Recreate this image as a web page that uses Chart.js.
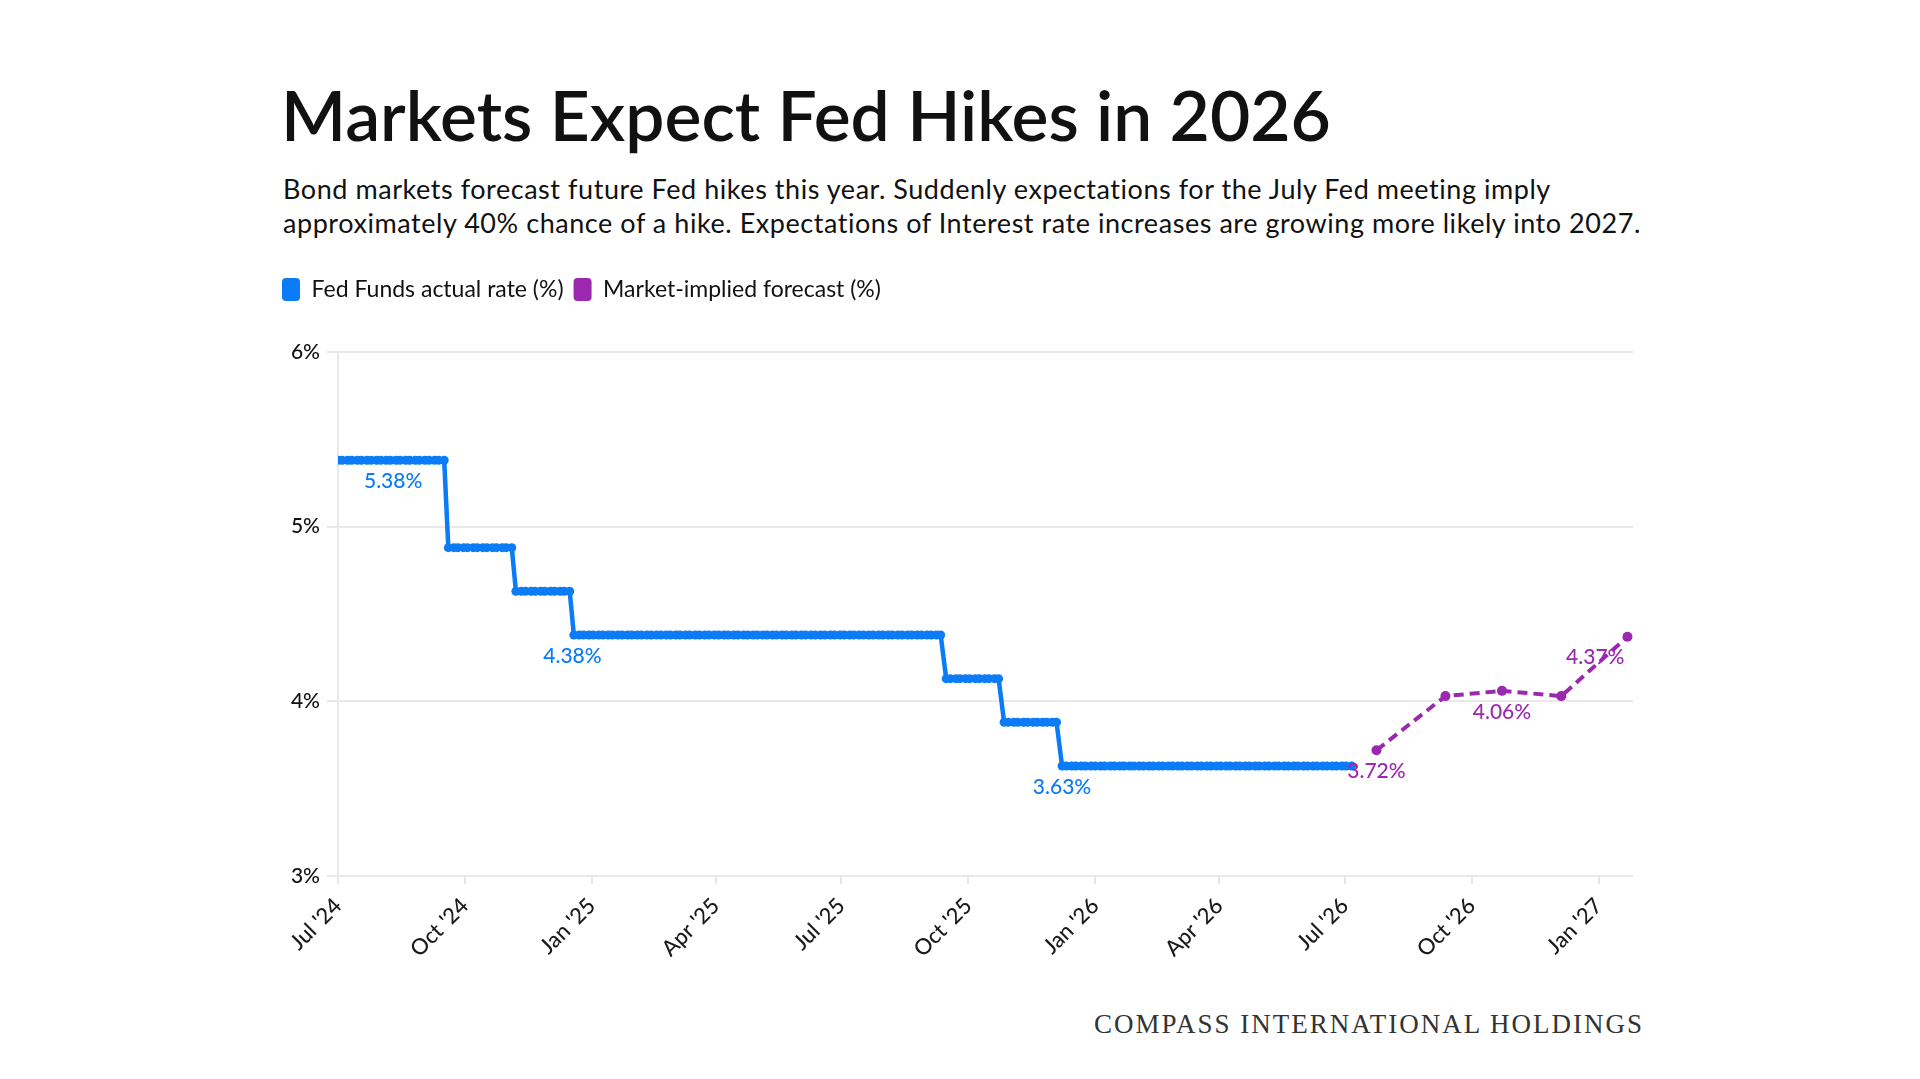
<!DOCTYPE html>
<html>
<head>
<meta charset="utf-8">
<script src="https://cdn.jsdelivr.net/npm/chart.js@4.4.1/dist/chart.umd.min.js"></script>
<style>
  body { margin: 0; width: 1920px; height: 1079px; background: #fff; position: relative; overflow: hidden; font-family: Lato, sans-serif; }
  #title { position: absolute; left: 281px; top: 74px; font-size: 69.5px; line-height: 80px; font-weight: 600; color: #111; white-space: nowrap; }
  #sub { position: absolute; left: 283px; top: 172px; font-size: 27px; line-height: 34px; letter-spacing: 0.55px; color: #111; white-space: nowrap; }
  #foot { position: absolute; right: 276px; top: 1009px; font-family: 'Liberation Serif', serif; font-size: 27px; line-height: 30px; letter-spacing: 2px; color: #333; white-space: nowrap; }
  #wrap { position: absolute; left: 272px; top: 268px; width: 1380px; height: 708px; }
</style>
</head>
<body>
<div id="title">Markets Expect Fed Hikes in 2026</div>
<div id="sub">Bond markets forecast future Fed hikes this year. Suddenly expectations for the July Fed meeting imply<br>approximately 40% chance of a hike. Expectations of Interest rate increases are growing more likely into 2027.</div>
<div id="wrap"><canvas id="myChart"></canvas></div>
<div id="foot">COMPASS INTERNATIONAL HOLDINGS</div>
<script>
// fed funds steps: first date of each level and the rate (%)
const stepStarts = ['2024-07-01', '2024-09-18', '2024-11-07', '2024-12-18', '2025-09-15', '2025-10-27', '2025-12-08'];
const stepRates = [5.38, 4.88, 4.63, 4.38, 4.13, 3.88, 3.63];
const actualEnd = '2026-07-06';

// market-implied path
const forecastDates = ['2026-07-24', '2026-09-12', '2026-10-23', '2026-12-05', '2027-01-22'];
const forecastRates = [3.72, 4.03, 4.06, 4.03, 4.37];

const tickDates = ['2024-07-01', '2024-10-01', '2025-01-01', '2025-04-01', '2025-07-01', '2025-10-01',
                   '2026-01-01', '2026-04-01', '2026-07-01', '2026-10-01', '2027-01-01'];
const tickLabels = ["Jul '24", "Oct '24", "Jan '25", "Apr '25", "Jul '25", "Oct '25",
                    "Jan '26", "Apr '26", "Jul '26", "Oct '26", "Jan '27"];

const blueLabels = [['2024-08-10', '5.38%'], ['2024-12-18', '4.38%'], ['2025-12-08', '3.63%']];
const purpleLabels = [[0, '3.72%'], [2, '4.06%'], [4, '4.37%']];

const BLUE = '#0b7bf6';
const PURPLE = '#9b29b0';
const t0 = Date.parse('2024-07-01');
const dayOf = s => Math.round((Date.parse(s) - t0) / 86400000);

function rateOn(day) {
    let r = stepRates[0];
    stepStarts.forEach((s, i) => { if (dayOf(s) <= day) r = stepRates[i]; });
    return r;
}

// observations are taken Mondays and Thursdays (2024-07-01 is a Monday)
const actual = [];
for (let d = 0; d <= dayOf(actualEnd); d++) {
    if (d % 7 === 0 || d % 7 === 3) actual.push({x: d, y: rateOn(d)});
}
const forecast = forecastDates.map((s, i) => ({x: dayOf(s), y: forecastRates[i]}));

const pointLabels = {
    id: 'pointLabels',
    afterDatasetsDraw(chart) {
        const {ctx, scales: {x, y}, chartArea} = chart;
        ctx.save();
        ctx.font = '500 21px Lato';
        ctx.textBaseline = 'middle';
        const put = (px, py, text, color) => {
            const w = ctx.measureText(text).width;
            ctx.fillStyle = color;
            if (px + w / 2 > chartArea.right) {
                ctx.textAlign = 'right';
                ctx.fillText(text, px - 3, py + 21);
            } else {
                ctx.textAlign = 'center';
                ctx.fillText(text, px, py + 21);
            }
        };
        blueLabels.forEach(([d, t]) => {
            const day = dayOf(d);
            put(x.getPixelForValue(day), y.getPixelForValue(rateOn(day)), t, BLUE);
        });
        purpleLabels.forEach(([i, t]) => {
            put(x.getPixelForValue(forecast[i].x), y.getPixelForValue(forecast[i].y), t, PURPLE);
        });
        ctx.restore();
    }
};

// empty box between legend and plot
const spacer = {
    id: 'spacer',
    beforeInit(chart) {
        Chart.layouts.addBox(chart, {
            position: 'top', weight: 500, fullSize: true, options: {},
            top: 0, left: 0, right: 0, bottom: 0, width: 0, height: 0,
            isHorizontal() { return true; },
            update(maxWidth) { this.width = maxWidth; this.height = 41; },
            draw() {}
        });
    }
};

Chart.defaults.font.family = 'Lato';
Chart.defaults.color = '#1a1a1a';

const ctx = document.getElementById('myChart').getContext('2d');
const myChart = new Chart(ctx, {
    type: 'line',
    data: {
        datasets: [{
            label: 'Fed Funds actual rate (%)',
            data: actual,
            borderColor: BLUE,
            backgroundColor: BLUE,
            borderWidth: 4.5,
            pointRadius: 4.5,
            pointBorderWidth: 0,
            pointBackgroundColor: BLUE
        }, {
            label: 'Market-implied forecast (%)',
            data: forecast,
            borderColor: PURPLE,
            backgroundColor: PURPLE,
            borderWidth: 4,
            borderDash: [10, 6],
            pointRadius: 5,
            pointBorderWidth: 0,
            pointBackgroundColor: PURPLE
        }]
    },
    options: {
        responsive: true,
        maintainAspectRatio: false,
        animation: false,
        layout: { padding: { top: 0, right: 19, bottom: 0, left: 0 } },
        plugins: {
            tooltip: { enabled: false },
            legend: {
                position: 'top',
                align: 'start',
                labels: {
                    font: { size: 23 },
                    color: '#111',
                    boxWidth: 18,
                    boxHeight: 23,
                    useBorderRadius: true,
                    borderRadius: 4,
                    padding: 10,
                    generateLabels(chart) {
                        return Chart.defaults.plugins.legend.labels.generateLabels(chart)
                            .map(l => Object.assign(l, { lineWidth: 0, lineDash: [] }));
                    }
                }
            }
        },
        scales: {
            x: {
                type: 'linear',
                min: 0,
                max: 939,
                afterBuildTicks(scale) { scale.ticks = tickDates.map(d => ({ value: dayOf(d) })); },
                afterFit(scale) { scale.height = 100; },
                ticks: {
                    minRotation: 45,
                    maxRotation: 45,
                    padding: 9,
                    font: { size: 22, weight: 500 },
                    color: '#1a1a1a',
                    callback(v) { const i = tickDates.findIndex(d => dayOf(d) === v); return i >= 0 ? tickLabels[i] : ''; }
                },
                grid: { drawOnChartArea: false, drawTicks: true, tickLength: 8, color: '#e6e6e6', lineWidth: 2 },
                border: { display: false }
            },
            y: {
                min: 3,
                max: 6,
                afterFit(scale) { scale.width = 66; },
                ticks: {
                    stepSize: 1,
                    padding: 7,
                    font: { size: 21, weight: 500 },
                    color: '#111',
                    callback: v => v + '%'
                },
                grid: { color: '#e9e9e9', lineWidth: 2, tickLength: 11 },
                border: { color: '#e9e9e9', width: 2 }
            }
        }
    },
    plugins: [pointLabels, spacer]
});
</script>
</body>
</html>
